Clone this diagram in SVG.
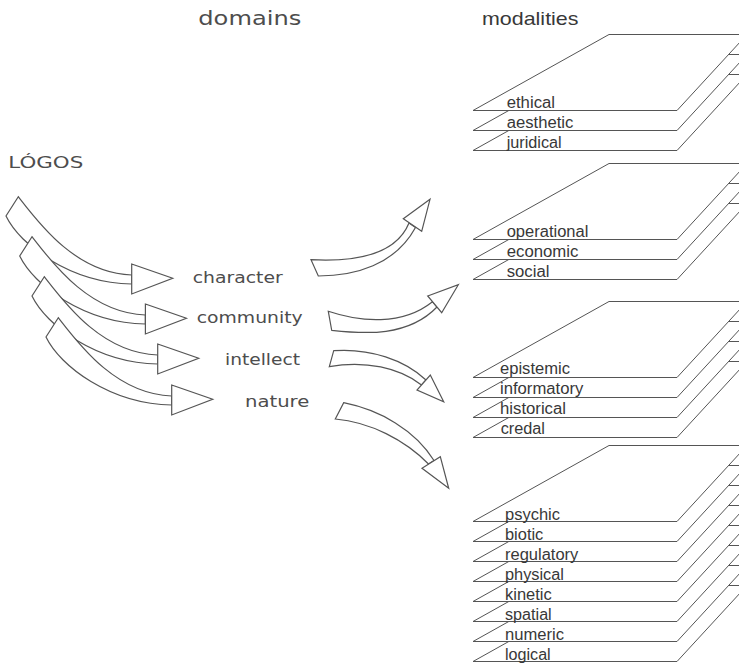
<svg xmlns="http://www.w3.org/2000/svg" width="739" height="665" viewBox="0 0 739 665">
  <style>
    .layer { fill: #ffffff; stroke: #555555; stroke-width: 1; }
    .shape { fill: #ffffff; stroke: #555555; stroke-width: 1.2; stroke-linejoin: miter; }
    .mod { font-family: "Liberation Sans", Arial, sans-serif; font-size: 16px; fill: #383838; }
    .title-mod { font-family: "Liberation Sans", Arial, sans-serif; font-size: 18.5px; fill: #383838; }
    .dom { font-family: "DejaVu Sans", "Liberation Sans", sans-serif; font-size: 15px; fill: #4d4d4d; }
    .title-dom { font-family: "DejaVu Sans", "Liberation Sans", sans-serif; font-size: 19px; fill: #4d4d4d; }
  </style>
  <defs>
    <!-- one sheet of a modality stack, origin at its front-left corner -->
    <polygon id="layer" class="layer" points="0,0 204,0 274,-76 136,-76"/>
    <!-- curved block arrow fanning out of LÓGOS -->
    <g id="bend-arrow">
      <path class="shape" d="M18.3,196.7 C38,222 75,273 131.7,275 L131.7,284 C70,283 20,245 6,216 Z"/>
      <polygon class="shape" points="131.7,264 172.7,278.3 131.7,294"/>
    </g>
  </defs>

  <!-- headings -->
  <g id="headings">
    <text class="title-dom" x="198.3" y="25" textLength="103" lengthAdjust="spacingAndGlyphs">domains</text>
    <text class="title-mod" x="482" y="25" textLength="96.5" lengthAdjust="spacingAndGlyphs">modalities</text>
  </g>

  <!-- source -->
  <g id="logos">
    <text class="dom" x="8.3" y="168.3" font-size="16.5" textLength="75" lengthAdjust="spacingAndGlyphs">LÓGOS</text>
  </g>

  <!-- domains -->
  <g id="domain-character">
    <text class="dom" x="192.7" y="283.3" textLength="90" lengthAdjust="spacingAndGlyphs">character</text>
  </g>
  <g id="domain-community">
    <text class="dom" x="196.7" y="323.3" textLength="106" lengthAdjust="spacingAndGlyphs">community</text>
  </g>
  <g id="domain-intellect">
    <text class="dom" x="225" y="365" textLength="75" lengthAdjust="spacingAndGlyphs">intellect</text>
  </g>
  <g id="domain-nature">
    <text class="dom" x="245" y="406.7" textLength="64.3" lengthAdjust="spacingAndGlyphs">nature</text>
  </g>

  <!-- modality stacks, back sheets first -->
  <g id="stack-character">
    <use href="#layer" x="473" y="150.5"/>
    <use href="#layer" x="473" y="130.5"/>
    <use href="#layer" x="473" y="110.5"/>
    <text class="mod" x="506.7" y="108" textLength="48.3" lengthAdjust="spacingAndGlyphs">ethical</text>
    <text class="mod" x="506.7" y="128" textLength="66.7" lengthAdjust="spacingAndGlyphs">aesthetic</text>
    <text class="mod" x="506.7" y="148" textLength="55" lengthAdjust="spacingAndGlyphs">juridical</text>
  </g>

  <g id="stack-community">
    <use href="#layer" x="473" y="279.5"/>
    <use href="#layer" x="473" y="259.5"/>
    <use href="#layer" x="473" y="239.5"/>
    <text class="mod" x="506.7" y="237" textLength="81.7" lengthAdjust="spacingAndGlyphs">operational</text>
    <text class="mod" x="506.7" y="257" textLength="71.7" lengthAdjust="spacingAndGlyphs">economic</text>
    <text class="mod" x="506.7" y="277" textLength="42.7" lengthAdjust="spacingAndGlyphs">social</text>
  </g>

  <g id="stack-intellect">
    <use href="#layer" x="473" y="437.5"/>
    <use href="#layer" x="473" y="417.5"/>
    <use href="#layer" x="473" y="397.5"/>
    <use href="#layer" x="473" y="377.5"/>
    <text class="mod" x="500" y="374" textLength="70" lengthAdjust="spacingAndGlyphs">epistemic</text>
    <text class="mod" x="500" y="394" textLength="83.3" lengthAdjust="spacingAndGlyphs">informatory</text>
    <text class="mod" x="500" y="414" textLength="66" lengthAdjust="spacingAndGlyphs">historical</text>
    <text class="mod" x="500.7" y="434" textLength="44.3" lengthAdjust="spacingAndGlyphs">credal</text>
  </g>

  <g id="stack-nature">
    <use href="#layer" x="473" y="661.5"/>
    <use href="#layer" x="473" y="641.5"/>
    <use href="#layer" x="473" y="621.5"/>
    <use href="#layer" x="473" y="601.5"/>
    <use href="#layer" x="473" y="581.5"/>
    <use href="#layer" x="473" y="561.5"/>
    <use href="#layer" x="473" y="541.5"/>
    <use href="#layer" x="473" y="521.5"/>
    <text class="mod" x="505" y="519.5" textLength="55" lengthAdjust="spacingAndGlyphs">psychic</text>
    <text class="mod" x="505" y="539.5" textLength="38.3" lengthAdjust="spacingAndGlyphs">biotic</text>
    <text class="mod" x="505" y="559.5" textLength="73.3" lengthAdjust="spacingAndGlyphs">regulatory</text>
    <text class="mod" x="505" y="579.5" textLength="59" lengthAdjust="spacingAndGlyphs">physical</text>
    <text class="mod" x="505" y="599.5" textLength="46.7" lengthAdjust="spacingAndGlyphs">kinetic</text>
    <text class="mod" x="505" y="619.5" textLength="46.7" lengthAdjust="spacingAndGlyphs">spatial</text>
    <text class="mod" x="505" y="639.5" textLength="59" lengthAdjust="spacingAndGlyphs">numeric</text>
    <text class="mod" x="505" y="659.5" textLength="45.7" lengthAdjust="spacingAndGlyphs">logical</text>
  </g>

  <!-- block arrows -->
  <g id="connectors">
    <!-- LÓGOS to each domain; later arrows overlap earlier ones -->
    <use href="#bend-arrow"/>
    <use href="#bend-arrow" transform="translate(13.7,40)"/>
    <use href="#bend-arrow" transform="translate(26,80)"/>
    <use href="#bend-arrow" transform="translate(40,121)"/>

    <!-- character to its stack -->
    <path class="shape" d="M311,259.7 C355,262 396,255 409,223 L415.5,227.5 C395,265 355,276 318.3,276 Z"/>
    <polygon class="shape" points="403.3,218.7 430,199.3 421.7,231.3"/>

    <!-- community to its stack -->
    <path class="shape" d="M328.3,311.3 C360,322 402,326 432.5,301.7 L437,307 C408,337 365,334 331.7,330.3 Z"/>
    <polygon class="shape" points="427.7,296 458.3,284.7 441.7,312.7"/>

    <!-- intellect to its stack -->
    <path class="shape" d="M333.7,350.7 C370,348 405,360 426,380 L421.5,385 C400,368 365,360 329.3,366.7 Z"/>
    <polygon class="shape" points="430.3,375 443.7,401.7 417,390"/>

    <!-- nature to its stack -->
    <path class="shape" d="M343.7,402.7 C380,410 415,430 434,460.5 L428.5,464 C405,440 370,422 335.3,419 Z"/>
    <polygon class="shape" points="440.3,456.7 448.7,488.3 422,468.3"/>
  </g>
</svg>
